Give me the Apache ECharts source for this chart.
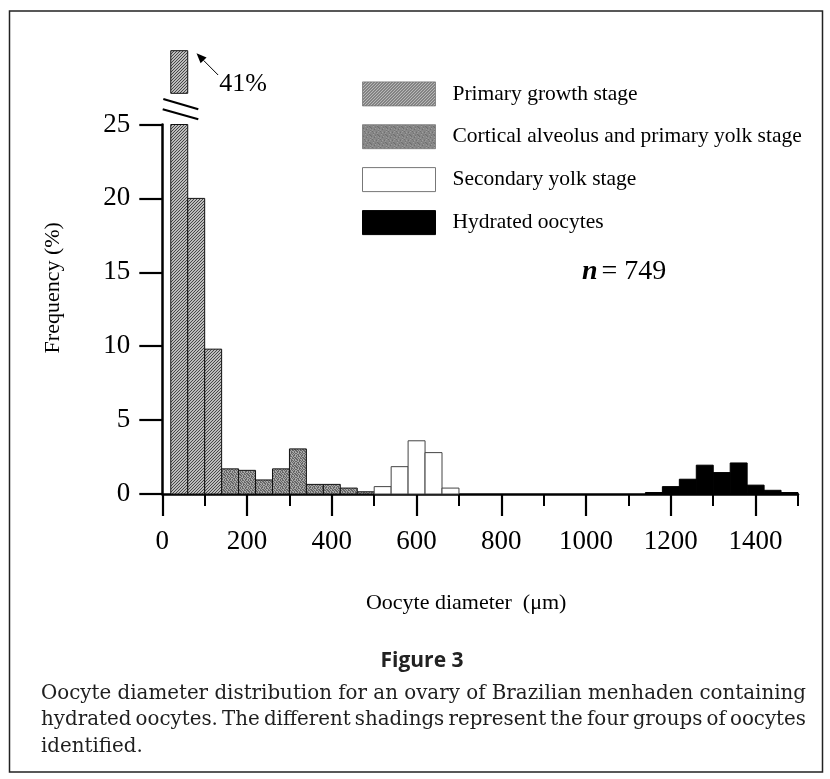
<!DOCTYPE html>
<html><head><meta charset="utf-8">
<script src="https://cdn.jsdelivr.net/npm/echarts@6/dist/echarts.min.js"></script>
<style>html,body{margin:0;padding:0;background:#fff}#c{width:830px;height:779px}</style>
</head><body><div id="c"></div>
<script>
// ---------------- data ----------------
const binWidth = 40; // µm
const primaryStart   = [20, 60, 100];
const primaryFreq    = [41, 20, 9.8];
const corticalStart  = [140, 180, 220, 260, 300, 340, 380, 420, 460];
const corticalFreq   = [1.7, 1.6, 0.95, 1.7, 3.05, 0.65, 0.65, 0.4, 0.15];
const secondaryStart = [500, 540, 580, 620, 660];
const secondaryFreq  = [0.5, 1.85, 3.6, 2.8, 0.4];
const hydratedStart  = [1140, 1180, 1220, 1260, 1300, 1340, 1380, 1420, 1460];
const hydratedFreq   = [0.1, 0.5, 1.0, 1.95, 1.45, 2.1, 0.6, 0.25, 0.1];
const xMajorTicks = [0, 200, 400, 600, 800, 1000, 1200, 1400];
const xMinorTicks = [100, 300, 500, 700, 900, 1100, 1300, 1500];
const yTicks = [0, 5, 10, 15, 20, 25];
const seriesNames = ['Primary growth stage', 'Cortical alveolus and primary yolk stage', 'Secondary yolk stage', 'Hydrated oocytes'];
const topLabel = '41%';
const nLabel = ['n', '= 749'];
const xTitle = 'Oocyte diameter  (μm)';
const yTitle = 'Frequency (%)';
const figTitle = 'Figure 3';
const captionLines = [
  'Oocyte diameter distribution for an ovary of Brazilian menhaden containing',
  'hydrated oocytes. The different shadings represent the four groups of oocytes',
  'identified.'
];

// ---------------- patterns ----------------
function makeTile(w, h, draw) {
  const c = document.createElement('canvas'); c.width = w; c.height = h;
  draw(c.getContext('2d')); return c;
}
const hatchTile = makeTile(3, 3, g => {
  g.fillStyle = '#bcbcbc'; g.fillRect(0, 0, 3, 3);
  g.fillStyle = '#474747';
  for (let i = 0; i < 3; i++) g.fillRect(i, 2 - i, 1, 1);
});
const stippleRows = [
  '#.##.#..', '.#..#.##', '#.#.##.#', '##.#..#.',
  '.#.##.#.', '#..#.#.#', '.##.#.#.', '#.#..##.'
];
const stippleTile = makeTile(8, 8, g => {
  stippleRows.forEach((r, y) => { for (let x = 0; x < 8; x++) { g.fillStyle = r[x] === '#' ? '#666666' : '#a8a8a8'; g.fillRect(x, y, 1, 1); } });
});
const hatchPattern = { image: hatchTile, repeat: 'repeat' };
const stipplePattern = { image: stippleTile, repeat: 'repeat' };

const groupStyles = [
  { fill: hatchPattern, stroke: '#111', lineWidth: 1 },
  { fill: stipplePattern, stroke: '#111', lineWidth: 1 },
  { fill: '#ffffff', stroke: '#444', lineWidth: 1 },
  { fill: '#000000', stroke: '#000', lineWidth: 1 }
];
const legendItemStyles = [
  { color: hatchPattern, borderColor: '#777', borderWidth: 0.8 },
  { color: stipplePattern, borderColor: '#777', borderWidth: 0.8 },
  { color: '#ffffff', borderColor: '#777', borderWidth: 1 },
  { color: '#000000', borderColor: '#000', borderWidth: 1 }
];

function binData(starts, freqs) { return starts.map((s, i) => [s, s + binWidth, freqs[i]]); }
function binRenderer(st) {
  return function (params, api) {
    const v = api.value(2);
    if (!(v > 0)) return;
    const a = api.coord([api.value(0), v]);
    const b = api.coord([api.value(1), 0]);
    const cs = params.coordSys;
    const shape = echarts.graphic.clipRectByRect(
      { x: a[0], y: a[1], width: b[0] - a[0], height: b[1] - a[1] },
      { x: cs.x, y: cs.y, width: cs.width, height: cs.height });
    if (!shape) return;
    return { type: 'rect', shape: shape, style: Object.assign({}, st) };
  };
}
function binSeries(i, starts, freqs, xi, yi) {
  return {
    type: 'custom', name: seriesNames[i], xAxisIndex: xi, yAxisIndex: yi,
    data: binData(starts, freqs), encode: { x: [0, 1], y: 2 },
    renderItem: binRenderer(groupStyles[i]),
    itemStyle: { color: legendItemStyles[i].color }, silent: true
  };
}

const serif = 'Liberation Serif';
const plain = v => String(v);
const chart = echarts.init(document.getElementById('c'), null, { renderer: 'canvas' });
const option = {
  animation: false,
  backgroundColor: '#fff',
  grid: [
    { left: 162.3, right: 32, top: 124.5, bottom: 285, outerBoundsMode: 'none' },
    { left: 162.3, right: 32, top: 50.7, height: 42.6, outerBoundsMode: 'none' }
  ],
  xAxis: [
    { gridIndex: 0, type: 'value', min: 0, max: 1500, position: 'bottom',
      axisLine: { show: true, onZero: false, lineStyle: { color: '#000', width: 2.5 } },
      axisTick: { show: true, inside: false, length: 22, customValues: xMajorTicks, lineStyle: { color: '#000', width: 2.2 } },
      axisLabel: { customValues: xMajorTicks, formatter: plain, margin: 34, fontFamily: serif, fontSize: 27, color: '#000' },
      splitLine: { show: false },
      name: xTitle, nameLocation: 'middle', nameGap: 98,
      nameTextStyle: { fontFamily: serif, fontSize: 22, color: '#000', padding: [0, 28, 0, 0] } },
    { gridIndex: 0, type: 'value', min: 0, max: 1500, position: 'bottom',
      axisLine: { show: false }, axisLabel: { show: false }, splitLine: { show: false },
      axisTick: { show: true, inside: false, length: 12, customValues: xMinorTicks, lineStyle: { color: '#000', width: 2 } } },
    { gridIndex: 1, type: 'value', min: 0, max: 1500, show: false }
  ],
  yAxis: [
    { gridIndex: 0, type: 'value', min: 0, max: 25, interval: 5,
      axisLine: { show: true, onZero: false, lineStyle: { color: '#000', width: 2.5 } },
      axisTick: { show: true, inside: false, length: 23, customValues: yTicks, lineStyle: { color: '#000', width: 2.2 } },
      axisLabel: { customValues: yTicks, formatter: plain, margin: 32, fontFamily: serif, fontSize: 27, color: '#000' },
      splitLine: { show: false },
      name: yTitle, nameLocation: 'middle', nameGap: 98, nameRotate: 90,
      nameTextStyle: { fontFamily: serif, fontSize: 22, color: '#000', padding: [0, 0, 0, 43] } },
    { gridIndex: 1, type: 'value', min: 38, max: 41, show: false }
  ],
  legend: {
    orient: 'vertical', left: 357, top: 76.5, itemWidth: 73, itemHeight: 24, itemGap: 18,
    selectedMode: false,
    textStyle: { fontFamily: serif, fontSize: 21.5, color: '#000', padding: [0, 0, 0, 12] },
    data: seriesNames.map((n, i) => ({ name: n, icon: 'rect', itemStyle: legendItemStyles[i] }))
  },
  series: [
    binSeries(0, primaryStart, primaryFreq, 0, 0),
    binSeries(1, corticalStart, corticalFreq, 0, 0),
    binSeries(2, secondaryStart, secondaryFreq, 0, 0),
    binSeries(3, hydratedStart, hydratedFreq, 0, 0),
    binSeries(0, primaryStart, primaryFreq, 2, 1)
  ]
};
chart.setOption(option);

// ---------------- annotations ----------------
const g = [];
g.push({ type: 'rect', shape: { x: 9.5, y: 11, width: 813, height: 761 }, style: { fill: 'none', stroke: '#222', lineWidth: 1.5 }, silent: true });
const p = chart.convertToPixel({ xAxisIndex: 2, yAxisIndex: 1 }, [primaryStart[0] + binWidth, primaryFreq[0]]);
const tip = [p[0] + 8.8, p[1] + 2.6], tail = [p[0] + 30.4, p[1] + 24.3];
const dx = tip[0] - tail[0], dy = tip[1] - tail[1], L = Math.hypot(dx, dy), ux = dx / L, uy = dy / L;
const hl = 10, hw = 4.2;
const base = [tip[0] - ux * hl, tip[1] - uy * hl];
g.push({ type: 'line', shape: { x1: tail[0], y1: tail[1], x2: base[0], y2: base[1] }, style: { stroke: '#000', lineWidth: 1 }, silent: true });
g.push({ type: 'polygon', shape: { points: [tip, [base[0] - uy * hw, base[1] + ux * hw], [base[0] + uy * hw, base[1] - ux * hw]] }, style: { fill: '#000' }, silent: true });
g.push({ type: 'text', x: p[0] + 31.4, y: p[1] + 33.3, style: { text: topLabel, fontFamily: serif, fontSize: 26, fill: '#000', verticalAlign: 'middle' }, silent: true });
const q = chart.convertToPixel({ xAxisIndex: 0, yAxisIndex: 0 }, [0, 25]);
g.push({ type: 'line', shape: { x1: q[0] + 1, y1: q[1] - 25.5, x2: q[0] + 36, y2: q[1] - 15.2 }, style: { stroke: '#000', lineWidth: 2.2 }, silent: true });
g.push({ type: 'line', shape: { x1: q[0] + 0.4, y1: q[1] - 15.2, x2: q[0] + 36, y2: q[1] - 5.2 }, style: { stroke: '#000', lineWidth: 2.2 }, silent: true });
g.push({ type: 'text', x: 582, y: 272, style: {
  text: '{n|' + nLabel[0] + '}{t|' + nLabel[1] + '}',
  verticalAlign: 'middle',
  rich: { n: { fontFamily: serif, fontSize: 28, fontStyle: 'italic', fontWeight: 'bold', fill: '#000', padding: [0, 4, 0, 0] },
          t: { fontFamily: serif, fontSize: 28, fill: '#000' } } }, silent: true });
g.push({ type: 'text', x: 422, y: 661, style: { text: figTitle, fontFamily: 'Open Sans', fontWeight: 'bold', fontSize: 21, fill: '#222', align: 'center', verticalAlign: 'middle' }, silent: true });
const capFamily = 'DejaVu Serif';
const mctx = document.createElement('canvas').getContext('2d');
function tw(t, s) { mctx.font = s + 'px "' + capFamily + '"'; return mctx.measureText(t).width; }
const capLeft = 41, capRight = 806, capW = capRight - capLeft;
const capSize = 100 * capW / tw(captionLines[0], 100);
const capY = [694, 720.3, 746.5];
captionLines.forEach((line, li) => {
  const words = line.split(' ');
  const justify = li < captionLines.length - 1;
  const wsum = words.reduce((s, w) => s + tw(w, capSize), 0);
  const gap = justify && words.length > 1 ? (capW - wsum) / (words.length - 1) : tw(' ', capSize);
  let x = capLeft;
  words.forEach(w => {
    g.push({ type: 'text', x: x, y: capY[li], style: { text: w, fontFamily: capFamily, fontSize: capSize, fill: '#1e1e1e', verticalAlign: 'middle' }, silent: true });
    x += tw(w, capSize) + gap;
  });
});
chart.setOption({ graphic: { elements: g } });
</script></body></html>
